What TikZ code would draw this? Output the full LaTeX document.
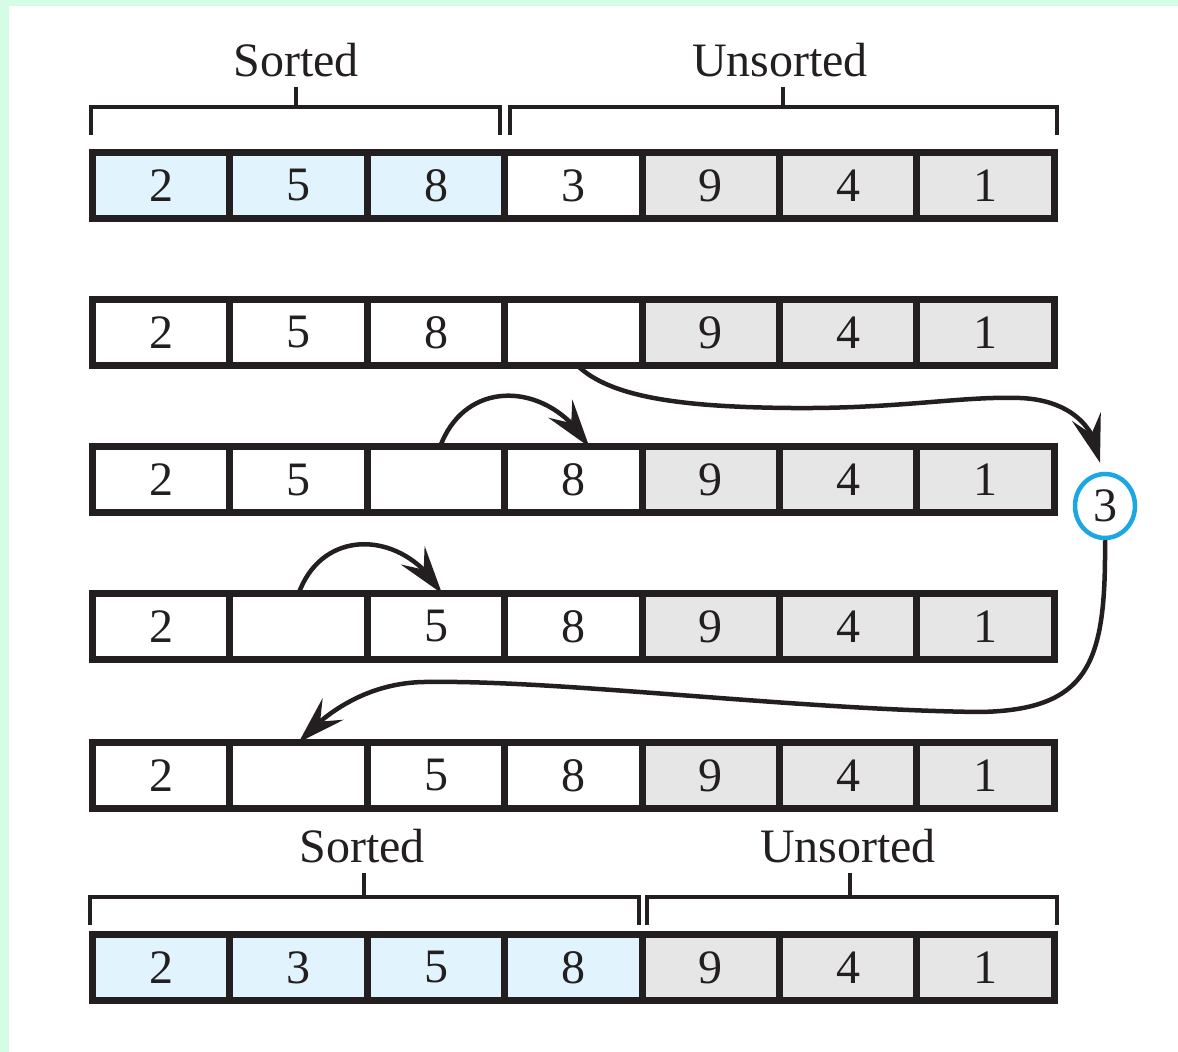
\documentclass[tikz,border=0pt]{standalone}
\usepackage{fontspec}
\setmainfont{Liberation Serif}
\usetikzlibrary{arrows.meta, bending, shapes.geometric}
\definecolor{ink}{HTML}{231F20}
\definecolor{sortedfill}{HTML}{E1F3FC}
\definecolor{restfill}{HTML}{E6E6E6}
\definecolor{keyblue}{HTML}{1BA8E0}
\definecolor{pagegreen}{HTML}{D5FCE5}
\newcommand{\cellfont}{\fontsize{48}{56}\selectfont}

\begin{document}
\begin{tikzpicture}[x=1pt, y=1pt,
        cell/.style = {draw=ink, line width=7pt, minimum width=137.4pt,
                        minimum height=66pt, inner sep=0pt, outer sep=0pt,
                        text=ink, font=\cellfont},
        sortbox/.style = {cell, fill=sortedfill},
        openbox/.style = {cell, fill=white},
        restbox/.style = {cell, fill=restfill},
        brace/.style = {draw=ink, line width=3.3pt},
        lbl/.style = {font=\cellfont, text=ink, anchor=base, inner sep=0pt},
        move/.style = {draw=ink, line width=4.5pt,
                        -{Stealth[length=48pt, width=30pt, inset=18pt]}},
        held/.style = {draw=keyblue, line width=4.5pt, ellipse,
                        minimum width=60pt, minimum height=64pt,
                        inner sep=0pt, text=ink, font=\cellfont}]
        % page
        \fill[pagegreen] (0,0) rectangle (1178,1052);
        \fill[white] (9,0) rectangle (1178,1046);

        % the array, one row per step
        \foreach \r/\y/\vals in {
                1/866.5/{sort/2,sort/5,sort/8,open/3,rest/9,rest/4,rest/1},
                2/719.5/{open/2,open/5,open/8,open/{},rest/9,rest/4,rest/1},
                3/572/{open/2,open/5,open/{},open/8,rest/9,rest/4,rest/1},
                4/425.5/{open/2,open/{},open/5,open/8,rest/9,rest/4,rest/1},
                5/276.5/{open/2,open/{},open/5,open/8,rest/9,rest/4,rest/1},
                6/84.5/{sort/2,sort/3,sort/5,sort/8,rest/9,rest/4,rest/1}}
            \foreach \k/\v [count=\i] in \vals
                \node[\k box] (c\r\i) at ({161.2+137.4*(\i-1)}, \y) {\v};

        \node[held] (tmp) at (1105,546) {3};

        % sorted / unsorted brackets
        \draw[brace] (91,917) |- (500,945) -- (500,917);
        \draw[brace] (296,945) -- (296,965);
        \node[lbl] (topsorted) at (296,975) {Sorted};
        \draw[brace] (510,917) |- (1057,945) -- (1057,917);
        \draw[brace] (783,945) -- (783,965);
        \node[lbl] (topunsorted) at (780,975) {Unsorted};

        \draw[brace] (90,127) |- (639,155) -- (639,127);
        \draw[brace] (364,155) -- (364,179);
        \node[lbl] (botsorted) at (362,189) {Sorted};
        \draw[brace] (647,127) |- (1057,155) -- (1057,127);
        \draw[brace] (850,155) -- (850,179);
        \node[lbl] (botunsorted) at (848,189) {Unsorted};

        % moves
        \draw[move] ([xshift=4pt]c24.south) .. controls (610,655) and (680,645)
            .. (790,644) .. controls (900,643) and (960,656)
            .. (1020,654) .. controls (1070,652) and (1097,625)
            .. ([xshift=-5pt, yshift=9pt]tmp.north);
        \draw[move] ([xshift=4pt]c33.north) to [out=70, in=120, looseness=1.3]
            ([xshift=16pt]c34.north);
        \draw[move] (c42.north) to [out=70, in=120, looseness=1.3]
            ([xshift=6pt]c43.north);
        \draw[move] (tmp.south) .. controls (1106,390) and (1090,342)
            .. (980,340) .. controls (800,342) and (560,372)
            .. (430,370) .. controls (375,371) and (330,345) .. (c52.north);
\end{tikzpicture}
\end{document}
